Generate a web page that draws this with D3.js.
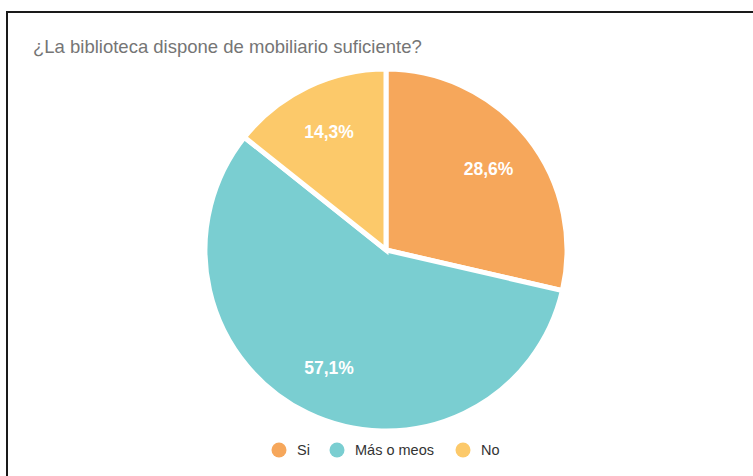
<!DOCTYPE html>
<html>
<head>
<meta charset="utf-8">
<script src="https://cdn.jsdelivr.net/npm/d3@7"></script>
<style>
  html, body { margin: 0; padding: 0; background: #fff; }
  svg { display: block; }
</style>
</head>
<body>
<svg id="chart" width="753" height="476"></svg>
<script>
const categories = ["Si", "Más o meos", "No"];
const values = [28.6, 57.1, 14.3];
const colors = ["#F6A75B", "#7ACED1", "#FCC96A"];
const title = "¿La biblioteca dispone de mobiliario suficiente?";

const svg = d3.select("#chart");
const W = 753, H = 476;

// frame
svg.append("rect")
  .attr("x", 7).attr("y", 12)
  .attr("width", 900).attr("height", 600)
  .attr("fill", "#fff")
  .attr("stroke", "#1a1a1a")
  .attr("stroke-width", 2);

svg.append("text")
  .attr("x", 33).attr("y", 53)
  .attr("font-family", "Liberation Sans, Arial, sans-serif")
  .attr("font-size", 18.5)
  .attr("fill", "#757575")
  .text(title);

const cx = 386, cy = 250, R = 181;
const g = svg.append("g").attr("transform", `translate(${cx},${cy})`);

const pie = d3.pie().sort(null).value(d => d.v);
const data = pie(categories.map((c, i) => ({ c, v: values[i], col: colors[i] })));
const arc = d3.arc().innerRadius(0).outerRadius(R);
const labelArc = d3.arc().innerRadius(131).outerRadius(131);

g.selectAll("path.slice")
  .data(data)
  .enter().append("path")
  .attr("class", "slice")
  .attr("d", arc)
  .attr("fill", d => d.data.col)
  .attr("stroke", "#fff")
  .attr("stroke-width", 5)
  .attr("stroke-linejoin", "miter");

const fmt = v => v.toFixed(1).replace(".", ",") + "%";
g.selectAll("text.lbl")
  .data(data)
  .enter().append("text")
  .attr("class", "lbl")
  .attr("transform", d => `translate(${labelArc.centroid(d)})`)
  .attr("text-anchor", "middle")
  .attr("dy", "0.36em")
  .attr("font-family", "Liberation Sans, Arial, sans-serif")
  .attr("font-weight", "bold")
  .attr("font-size", 17.5)
  .attr("fill", "#fff")
  .text(d => fmt(d.data.v));

// legend
const legendX = [279, 337, 463];
const lg = svg.append("g").attr("transform", "translate(0,450)");
categories.forEach((c, i) => {
  lg.append("circle")
    .attr("cx", legendX[i]).attr("cy", 0).attr("r", 7.5)
    .attr("fill", colors[i]);
  lg.append("text")
    .attr("x", legendX[i] + 18).attr("y", 0)
    .attr("dy", "0.36em")
    .attr("font-family", "Liberation Sans, Arial, sans-serif")
    .attr("font-size", 14.5)
    .attr("fill", "#333")
    .text(c);
});
</script>
</body>
</html>
